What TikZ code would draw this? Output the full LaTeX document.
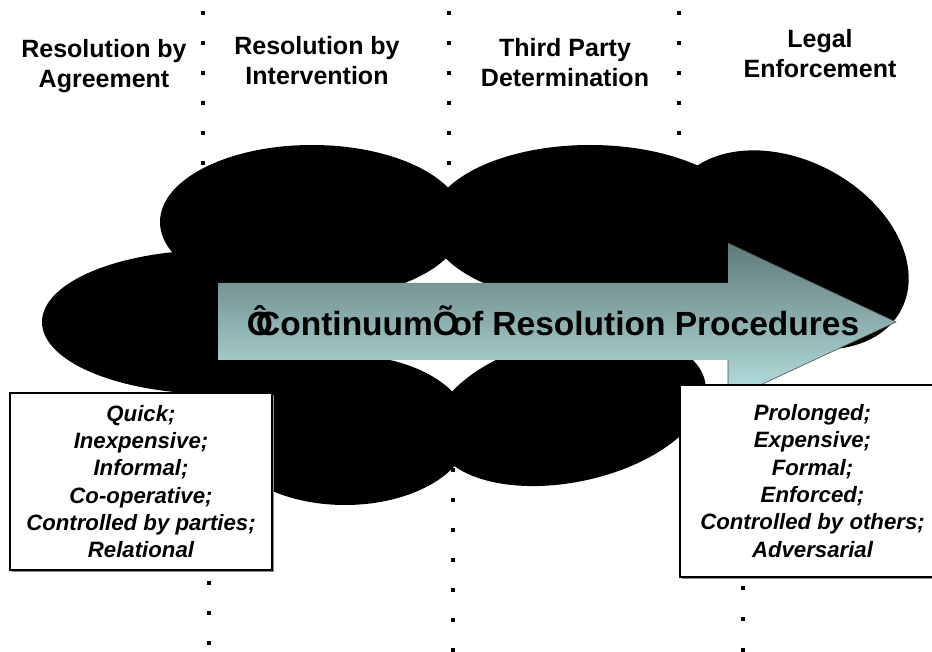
\documentclass[tikz,border=0pt]{standalone}
\usepackage{fontspec}
\setmainfont{Liberation Sans}
\usetikzlibrary{shadows}
\definecolor{arrowtop}{RGB}{95,122,122}
\definecolor{arrowbot}{RGB}{185,226,226}
\tikzset{
  blob/.style={fill=black},
  dotsq/.style={fill=black},
  stage/.style={align=center,inner sep=0,anchor=base,font=\bfseries\fontsize{25}{30}\selectfont},
  tracebox/.style={draw=black,line width=1.3pt,fill=white,inner sep=0,align=center,
    drop shadow={shadow xshift=2pt,shadow yshift=-2pt,fill=black!45,opacity=1},
    font=\bfseries\itshape\fontsize{22.2}{27.3}\selectfont},
}
\newcommand\dotrun[2]{\foreach \yy in {#2}\fill[dotsq](#1-1.7,\yy-1.7)rectangle++(3.4,3.4);}
\begin{document}
\begin{tikzpicture}[x=1pt,y=-1pt]
\useasboundingbox (0,0) rectangle (932,652);
% dotted dividers
\dotrun{203}{13,43,...,163}
\dotrun{449}{13,43,...,163}
\dotrun{679}{13,43,...,133}
\dotrun{209}{583,613,643}
\dotrun{453}{470,500,...,650}
\dotrun{743}{588,619,650}
% the black cloud
\fill[blob](215,322)ellipse[x radius=173pt,y radius=72pt];
\fill[blob](312,222)ellipse[x radius=152pt,y radius=77pt];
\fill[blob](590,224)ellipse[x radius=160pt,y radius=79pt];
\fill[blob,rotate around={-28:(788,250)}](788,250)ellipse[x radius=128pt,y radius=90pt];
\fill[blob](345,430)ellipse[x radius=125pt,y radius=75pt];
\fill[blob,rotate around={12:(570,410)}](570,410)ellipse[x radius=138pt,y radius=72pt];
% arrow
\coordinate(tail1)at(218,283);\coordinate(tail2)at(218,360);
\coordinate(tip)at(896,322);
\shade[top color=arrowtop,bottom color=arrowbot](tail1)--(728,283)--(728,243)--(tip)--(728,400)--(728,360)--(tail2)--cycle;
\draw[black!70,line width=0.6pt](728,243)--(tip)--(728,400)--(728,360);
\node[anchor=base,inner sep=0,font=\bfseries\fontsize{33.5}{36}\selectfont](contlabel)at(553,336)
  {\makebox[0.278em][l]{Ô}Continuum\makebox[0.278em][l]{Õ} of Resolution Procedures};
% stage headings
\node[stage](agree)at(104,88){Resolution by\\Agreement};
\node[stage](interv)at(317,85){Resolution by\\Intervention};
\node[stage](third)at(565,87){Third Party\\Determination};
\node[stage](legal)at(820,78){Legal\\Enforcement};
% trait boxes
\node[tracebox,minimum width=262pt,minimum height=177pt](quickbox)at(141,481.5)
  {Quick;\\Inexpensive;\\Informal;\\Co-operative;\\Controlled by parties;\\Relational};
\node[tracebox,minimum width=265pt,minimum height=192pt](longbox)at(812.5,481)
  {Prolonged;\\Expensive;\\Formal;\\Enforced;\\Controlled by others;\\Adversarial};
\end{tikzpicture}
\end{document}
